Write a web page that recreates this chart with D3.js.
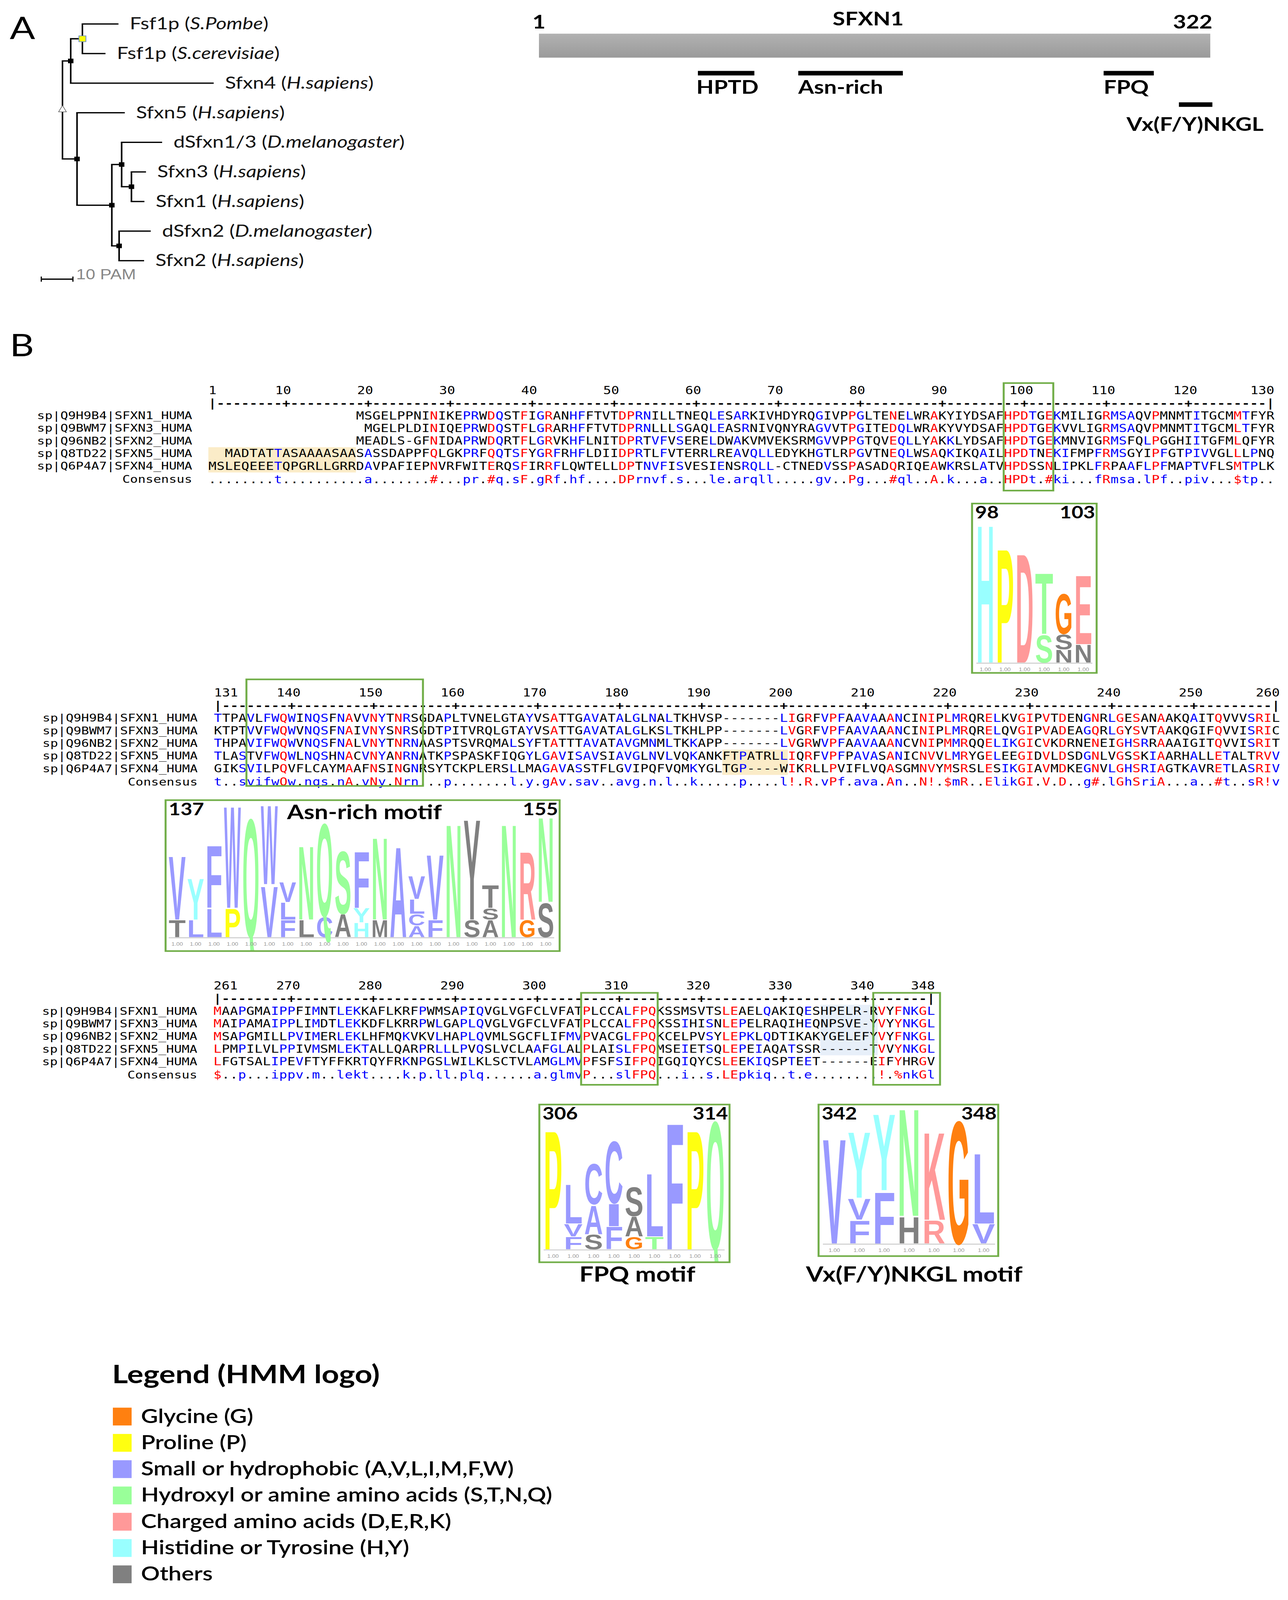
<!DOCTYPE html>
<html><head><meta charset="utf-8">
<script src="https://cdn.jsdelivr.net/npm/d3@7"></script>
<style>html,body{margin:0;padding:0;background:#fff;overflow:hidden}svg{display:block;width:100vw;height:100vh}</style></head>
<body><svg id="c" viewBox="0 0 3298 4941" preserveAspectRatio="none"></svg>
<script>
// ---------- DATA ----------
const treeNodes = [
 {id:"root",parent:null,len:0},
 {id:"n2",parent:"root",len:2.6},
 {id:"n1",parent:"n2",len:3.7},
 {id:"pombe",parent:"n1",len:11.4},
 {id:"cerev",parent:"n1",len:7.3},
 {id:"sfxn4",parent:"n2",len:45.2},
 {id:"n3",parent:"root",len:4.6},
 {id:"sfxn5",parent:"n3",len:15.1},
 {id:"n4",parent:"n3",len:11},
 {id:"n5",parent:"n4",len:3.1},
 {id:"dsfxn13",parent:"n5",len:12.8},
 {id:"n6",parent:"n5",len:3.1},
 {id:"sfxn3",parent:"n6",len:4.6},
 {id:"sfxn1",parent:"n6",len:4.1},
 {id:"n7",parent:"n4",len:2.3},
 {id:"dsfxn2",parent:"n7",len:10},
 {id:"sfxn2",parent:"n7",len:7.9}];
const leafNames = {pombe:["Fsf1p","S.Pombe"],cerev:["Fsf1p","S.cerevisiae"],sfxn4:["Sfxn4","H.sapiens"],sfxn5:["Sfxn5","H.sapiens"],dsfxn13:["dSfxn1/3","D.melanogaster"],sfxn3:["Sfxn3","H.sapiens"],sfxn1:["Sfxn1","H.sapiens"],dsfxn2:["dSfxn2","D.melanogaster"],sfxn2:["Sfxn2","H.sapiens"]};

const motifNames = ["HPTD","Asn-rich","FPQ","Vx(F/Y)NKGL"];
const motifStart = [77,125,271,307];
const motifEnd = [104,175,295,323];

const seqNames = ["sp|Q9H9B4|SFXN1_HUMA","sp|Q9BWM7|SFXN3_HUMA","sp|Q96NB2|SFXN2_HUMA","sp|Q8TD22|SFXN5_HUMA","sp|Q6P4A7|SFXN4_HUMA"];
const block1 = [
"                  MSGELPPNINIKEPRWDQSTFIGRANHFFTVTDPRNILLTNEQLESARKIVHDYRQGIVPPGLTENELWRAKYIYDSAFHPDTGEKMILIGRMSAQVPMNMTITGCMMTFYR",
"                   MGELPLDINIQEPRWDQSTFLGRARHFFTVTDPRNLLLSGAQLEASRNIVQNYRAGVVTPGITEDQLWRAKYVYDSAFHPDTGEKVVLIGRMSAQVPMNMTITGCMLTFYR",
"                  MEADLS-GFNIDAPRWDQRTFLGRVKHFLNITDPRTVFVSERELDWAKVMVEKSRMGVVPPGTQVEQLLYAKKLYDSAFHPDTGEKMNVIGRMSFQLPGGHIITGFMLQFYR",
"  MADTATTASAAAASAASASSDAPPFQLGKPRFQQTSFYGRFRHFLDIIDPRTLFVTERRLREAVQLLEDYKHGTLRPGVTNEQLWSAQKIKQAILHPDTNEKIFMPFRMSGYIPFGTPIVVGLLLPNQ",
"MSLEQEEETQPGRLLGRRDAVPAFIEPNVRFWITERQSFIRRFLQWTELLDPTNVFISVESIENSRQLL-CTNEDVSSPASADQRIQEAWKRSLATVHPDSSNLIPKLFRPAAFLPFMAPTVFLSMTPLK"];
const cons1 = "........t..........a.......#...pr.#q.sF.gRf.hf....DPr"+"nvf.s...le.arqll.....gv..Pg...#ql..A.k...a..HPDt.#ki...fRmsa.lPf..piv...$tp..";
const block2 = [
"TTPAVLFWQWINQSFNAVVNYTNRSGDAPLTVNELGTAYVSATTGAVATALGLNALTKHVSP-------LIGRFVPFAAVAAANCINIPLMRQRELKVGIPVTDENGNRLGESANAAKQAITQVVVSRIL",
"KTPTVVFWQWVNQSFNAIVNYSNRSGDTPITVRQLGTAYVSATTGAVATALGLKSLTKHLPP-------LVGRFVPFAAVAAANCINIPLMRQRELQVGIPVADEAGQRLGYSVTAAKQGIFQVVISRIC",
"THPAVIFWQWVNQSFNALVNYTNRNAASPTSVRQMALSYFTATTTAVATAVGMNMLTKKAPP-------LVGRWVPFAAVAAANCVNIPMMRQQELIKGICVKDRNENEIGHSRRAAAIGITQVVISRIT",
"TLASTVFWQWLNQSHNACVNYANRNATKPSPASKFIQGYLGAVISAVSIAVGLNVLVQKANKFTPATRLLIQRFVPFPAVASANICNVVLMRYGELEEGIDVLDSDGNLVGSSKIAARHALLETALTRVV",
"GIKSVILPQVFLCAYMAAFNSINGNRSYTCKPLERSLLMAGAVASSTFLGVIPQFVQMKYGLTGP----WIKRLLPVIFLVQASGMNVYMSRSLESIKGIAVMDKEGNVLGHSRIAGTKAVRETLASRIV"];
const cons2 = "t..svifwQw.nqs.nA.vNy.Nrn...p.......l.y.gAv.sav..avg.n.l..k.....p....l!.R.vPf.ava.An..N!.$mR..ElikGI.V.D..g#.lGhSriA...a..#t..sR!v";
const block3 = [
"MAAPGMAIPPFIMNTLEKKAFLKRFPWMSAPIQVGLVGFCLVFATPLCCALFPQKSSMSVTSLEAELQAKIQESHPELR-RVYFNKGL",
"MAIPAMAIPPLIMDTLEKKDFLKRRPWLGAPLQVGLVGFCLVFATPLCCALFPQKSSIHISNLEPELRAQIHEQNPSVE-YVYYNKGL",
"MSAPGMILLPVIMERLEKLHFMQKVKVLHAPLQVMLSGCFLIFMVPVACGLFPQKCELPVSYLEPKLQDTIKAKYGELEFYVYFNKGL",
"LPMPILVLPPIVMSMLEKTALLQARPRLLLPVQSLVCLAAFGLALPLAISLFPQMSEIETSQLEPEIAQATSSR------TVVYNKGL",
"LFGTSALIPEVFTYFFKRTQYFRKNPGSLWILKLSCTVLAMGLMVPFSFSIFPQIGQIQYCSLEEKIQSPTEET------EIFYHRGV"];
const cons3 = "$..p...ippv.m..lekt....k.p.ll.plq......a.glmvP...slFPQ...i..s.LEpkiq..t.e........!.%nkGl";

// HMM logos: stacks listed top -> bottom, [residue, height]; lowercase = drawn grey
const logoHPD = [[["H",4.3]],[["P",3.55]],[["D",3.4]],[["T",1.9],["S",0.85]],[["G",1.25],["s",0.45],["n",0.4]],[["E",2.15],["n",0.55]]];
const logoAsn = [[["V",2.25],["t",0.6]],[["Y",1.45],["L",0.6]],[["F",2.2],["L",1.0]],[["W",3.6],["P",1.0]],[["Q",4.2]],[["W",2.8],["V",1.8]],[["V",0.7],["L",0.6],["F",0.6]],[["N",2.6],["l",0.6]],[["Q",3.3],["C",0.7]],[["S",2.2],["a",0.8]],[["F",2.0],["Y",0.5],["H",0.5]],[["N",2.9],["m",0.6]],[["A",3.2]],[["V",0.8],["L",0.5],["C",0.4],["A",0.4]],[["V",2.3],["F",0.6]],[["N",4.0]],[["y",3.55],["s",0.6]],[["t",0.8],["s",0.4],["a",0.6]],[["N",4.0]],[["R",2.4],["G",0.6]],[["N",3.0],["s",1.2]]];
const logoFPQ = [[["P",9.65]],[["L",3.15],["V",1.0],["F",1.0]],[["C",3.3],["A",2.3],["s",1.2]],[["C",5.0],["I",1.8],["F",1.8]],[["s",2.35],["a",1.6],["G",1.0]],[["L",5.1],["T",1.0]],[["F",10.25]],[["P",9.65]],[["Q",10.4]]];
const logoNKGL = [[["V",8.5]],[["Y",5.35],["V",1.7],["F",1.85]],[["Y",6.2],["F",4.15]],[["N",8.7],["h",2.15]],[["K",7.1],["R",1.85]],[["G",9.95]],[["L",5.7],["V",1.55]]];

const legendLabels = ["Glycine (G)","Proline (P)","Small or hydrophobic (A,V,L,I,M,F,W)","Hydroxyl or amine amino acids (S,T,N,Q)","Charged amino acids (D,E,R,K)","Histidine or Tyrosine (H,Y)","Others"];
const legendColors = ["#ff8010","#ffff10","#9999ff","#99ff99","#ff9999","#99ffff","#808080"];

// ---------- DRAW ----------
const svg = d3.select("#c");
svg.append("rect").attr("width",3298).attr("height",4941).attr("fill","#fff");
const F = "Lato, 'Open Sans', sans-serif";
const MONO = "'DejaVu Sans Mono', monospace";
const GREEN = "#70ad47";
const defs = svg.append("defs");
function T(x,y,s,anchor,opts){const t=svg.append("text").attr("x",x).attr("y",y).attr("text-anchor",anchor||"start").text(s);Object.entries(opts).forEach(([k,v])=>t.attr(k,v));return t;}

// ---- Legend ----
T(287,4272,"Legend (HMM logo)","start",{"font-family":F,"font-weight":"bold","font-size":78});
legendLabels.forEach((l,i)=>{
  const yy = 4374 + i*81.2;
  svg.append("rect").attr("x",289).attr("y",yy-27).attr("width",48).attr("height",55).attr("fill",legendColors[i]);
  T(361,yy+20,l,"start",{"font-family":F,"font-weight":"600","font-size":60});
});

// Panel labels
T(25,121,"A","start",{"font-family":F,"font-size":96});
T(25,1100,"B","start",{"font-family":F,"font-size":96});

// ---- Tree ----
const root = d3.stratify().id(d=>d.id).parentId(d=>d.parent)(treeNodes);
const xT = d3.scaleLinear().domain([0,10]).range([160,241]);
const leaves = root.leaves();
const yT = d3.scalePoint().domain(leaves.map(d=>d.id)).range([74,805]);
root.eachBefore(n=>{n.pam=(n.parent?n.parent.pam:0)+n.data.len; n.px=xT(n.pam);});
root.eachAfter(n=>{n.py = n.children? d3.mean(n.children,c=>c.py) : yT(n.id);});
const tg = svg.append("g").attr("stroke","#000").attr("stroke-width",4).attr("fill","none");
root.each(n=>{
  if(n.children){
    const ys=n.children.map(c=>c.py);
    tg.append("line").attr("x1",n.px).attr("x2",n.px).attr("y1",d3.min(ys)).attr("y2",d3.max(ys));
    n.children.forEach(c=>tg.append("line").attr("x1",n.px-2).attr("x2",c.px).attr("y1",c.py).attr("y2",c.py));
  }
});
root.each(n=>{
  if(!n.children) return;
  if(n.id==="root"){
    svg.append("path").attr("d",`M${n.px},${n.py-14}L${n.px-10},${n.py+6}L${n.px+10},${n.py+6}Z`).attr("fill","#fff").attr("stroke","#555").attr("stroke-width",1.5);
  } else if(n.id==="n1"){
    svg.append("rect").attr("x",n.px-9).attr("y",n.py-9).attr("width",18).attr("height",18).attr("fill","#ffff00").attr("stroke","#6b8ec8").attr("stroke-width",2);
  } else {
    svg.append("rect").attr("x",n.px-7).attr("y",n.py-7).attr("width",14).attr("height",14).attr("fill","#000");
  }
});
leaves.forEach(l=>{
  const [nm,sp]=leafNames[l.id];
  const t=svg.append("text").attr("x",l.px+29).attr("y",l.py+17).attr("font-family",F).attr("font-size",52).attr("fill","#111");
  t.append("tspan").text(nm+" (");
  t.append("tspan").attr("font-style","italic").text(sp);
  t.append("tspan").text(")");
});
svg.append("line").attr("x1",xT(-6.7)).attr("x2",xT(3.3)).attr("y1",862).attr("y2",862).attr("stroke","#000").attr("stroke-width",4);
svg.append("line").attr("x1",xT(-6.7)).attr("x2",xT(-6.7)).attr("y1",854).attr("y2",870).attr("stroke","#000").attr("stroke-width",3);
svg.append("line").attr("x1",xT(3.3)).attr("x2",xT(3.3)).attr("y1",854).attr("y2",870).attr("stroke","#000").attr("stroke-width",3);
T(195,862,"10 PAM","start",{"font-family":"'Liberation Sans',sans-serif","font-size":44,"fill":"#888"});

// ---- Protein schematic ----
const xP = d3.scaleLinear().domain([1,322]).range([1380,3099]);
const gr = defs.append("linearGradient").attr("id","barg").attr("x1",0).attr("x2",0).attr("y1",0).attr("y2",1);
gr.append("stop").attr("offset","0%").attr("stop-color","#b2b2b2");
gr.append("stop").attr("offset","100%").attr("stop-color","#9a9a9a");
svg.append("rect").attr("x",xP(1)).attr("y",104).attr("width",xP(322)-xP(1)).attr("height",74).attr("fill","url(#barg)");
const bf = {"font-family":F,"font-weight":"bold","font-size":58};
T(xP(1),88,"1","middle",bf);
T(xP(322)-45,88,"322","middle",bf);
T(2223,78,"SFXN1","middle",bf);
motifNames.forEach((m,i)=>{
  const ly = i===3?323:226;
  svg.append("rect").attr("x",xP(motifStart[i])).attr("y",ly-7).attr("width",xP(motifEnd[i])-xP(motifStart[i])).attr("height",14).attr("fill","#000");
  if(i===3) T(3060,404,m,"middle",bf); else T(i===0?xP(motifStart[i])-4:xP(motifStart[i]),290,m,"start",bf);
});

// ---- Alignment ----
const groups = {"!":"IV","$":"LM","%":"FY","#":"NDQEBZ"};
function resColor(r,c){
  if(c==="."||r==="-"||r===" ") return "#000";
  if(groups[c]) return groups[c].includes(r)?"#ff0000":"#000";
  if(r.toUpperCase()!==c.toUpperCase()) return "#000";
  return c===c.toUpperCase()?"#ff0000":"#0000ff";
}
function consColor(c){ if(c===".") return "#000"; if(groups[c]) return "#ff0000"; return c===c.toUpperCase()?"#ff0000":"#0000ff"; }

function drawBlock(rows, cons, first, x0, y0, hl){
  const n = cons.length;
  const x = d3.scaleLinear().domain([first, first+n-1]).range([x0, x0+(n-1)*21]);
  const rs = 39;
  (hl||[]).forEach(h=>{
    svg.append("rect").attr("x",x(h[0])-10.5).attr("width",x(h[1])-x(h[0])+21).attr("y",y0+h[2]*rs-19).attr("height",(h[3]-h[2]+1)*rs).attr("fill",h[4]);
  });
  const g = svg.append("g").attr("font-family",MONO).attr("font-size",34).attr("dominant-baseline","central");
  const ticks = [first].concat(d3.range(Math.ceil((first+1)/10)*10, first+n-1, 10)).concat([first+n-1]);
  ticks.forEach((t,i)=>{
    const a = i===0?"start":(i===ticks.length-1?"end":"middle");
    const xx = i===0?x(t)-10:(i===ticks.length-1?x(t)+10:x(t)-8);
    g.append("text").attr("x",xx).attr("y",y0-78).attr("text-anchor",a).text(t);
  });
  for(let k=0;k<n;k++){
    const p=first+k; const ch = k===0||k===n-1?"|":(p%10===0?"+":"-");
    g.append("text").attr("x",x(p)).attr("y",y0-38).attr("text-anchor","middle").attr("font-weight","bold").text(ch);
  }
  rows.forEach((s,ri)=>{
    g.append("text").attr("x",x0-52).attr("y",y0+ri*rs).attr("text-anchor","end").attr("font-size",33).text(seqNames[ri]);
    for(let k=0;k<s.length;k++){
      if(s[k]===" ") continue;
      g.append("text").attr("x",x(first+k)).attr("y",y0+ri*rs).attr("text-anchor","middle").attr("fill",resColor(s[k],cons[k])).text(s[k]);
    }
  });
  const yc = y0+4*rs+41;
  g.append("text").attr("x",x0-52).attr("y",yc).attr("text-anchor","end").attr("font-size",33).text("Consensus");
  for(let k=0;k<n;k++) g.append("text").attr("x",x(first+k)).attr("y",yc).attr("text-anchor","middle").attr("fill",consColor(cons[k])).text(cons[k]);
  return x;
}
const x1 = drawBlock(block1, cons1, 1, 544, 1283, [[1,18,3,4,"#fbecc8"]]);
const x2 = drawBlock(block2, cons2, 131, 558, 2217, [[193,200,3,4,"#fbecc8"]]);
const x3 = drawBlock(block3, cons3, 261, 557, 3122, [[335,341,0,3,"#e7eff9"]]);
function gbox(x,y,w,h){svg.append("rect").attr("x",x).attr("y",y).attr("width",w).attr("height",h).attr("fill","none").attr("stroke",GREEN).attr("stroke-width",5);}
gbox(x1(98)-11,1183,x1(103)-x1(98)+22,332);
gbox(x2(135)-11,2098,x2(155)-x2(135)+32,329);
gbox(x3(306)-14,3066,x3(314)-x3(306)+28,284);
gbox(x3(342)-22,3066,x3(348)-x3(342)+45,284);

// ---- HMM logos ----
const clsColor = r=>{
  if(r!==r.toUpperCase()) return "#808080";
  if(r==="G") return "#ff8010"; if(r==="P") return "#ffff10";
  if("AVLIMFWC".includes(r)) return "#9999ff"; if("STNQ".includes(r)) return "#99ff99";
  if("DERK".includes(r)) return "#ff9999"; if("HY".includes(r)) return "#99ffff"; return "#808080";
};
let logoId=0;
function drawLogo(cols, bx, by, bw, bh, x0, colW, base, maxV, maxPx, lbl){
  const cid = "clip"+(logoId++);
  defs.append("clipPath").attr("id",cid).append("rect").attr("x",bx).attr("y",by).attr("width",bw).attr("height",bh);
  const y = d3.scaleLinear().domain([0,maxV]).range([base, base-maxPx]);
  const xs = d3.scaleBand().domain(d3.range(cols.length)).range([x0, x0+colW*cols.length]).paddingInner(0.08);
  const g = svg.append("g").attr("clip-path",`url(#${cid})`);
  g.append("line").attr("x1",x0).attr("x2",x0+colW*cols.length).attr("y1",base+2).attr("y2",base+2).attr("stroke","#ccc").attr("stroke-width",3);
  cols.forEach((stack,i)=>{
    let yy = base;
    stack.slice().reverse().forEach(([r,v])=>{
      const h = base - y(v);
      const t = g.append("text").attr("font-family","'Liberation Sans',Arial,sans-serif").attr("font-weight","bold").attr("font-size",100).attr("fill",clsColor(r)).text(r.toUpperCase());
      const bb = t.node().getBBox();
      t.attr("transform",`translate(${xs(i)},${yy}) scale(${xs.bandwidth()/bb.width},${h/72.9}) translate(${-bb.x},0)`);
      yy -= h;
    });
    g.append("text").attr("x",xs(i)+xs.bandwidth()/2).attr("y",base+26).attr("text-anchor","middle").attr("font-family","'Liberation Sans',sans-serif").attr("font-size",15).attr("fill","#999").text("1.00");
  });
  gbox(bx,by,bw,bh);
  T(bx+8,by+46,lbl[0],"start",{"font-family":F,"font-weight":"bold","font-size":52});
  T(bx+bw-4,by+46,lbl[1],"end",{"font-family":F,"font-weight":"bold","font-size":52});
}
drawLogo(logoHPD, 2489,1555,319,523, 2500,49.5, 2046, 4.3, 444, ["98","103"]);
drawLogo(logoAsn, 424,2471,1009,466, 432,47, 2894, 4.2, 382, ["137","155"]);
T(735,2530,"Asn-rich motif","start",{"font-family":F,"font-weight":"bold","font-size":62});
drawLogo(logoFPQ, 1381,3411,487,487, 1392,51.5, 3858, 10.4, 413, ["306","314"]);
drawLogo(logoNKGL, 2096,3411,460,468, 2107,63, 3840, 10, 397, ["342","348"]);
T(1632,3958,"FPQ motif","middle",{"font-family":F,"font-weight":"bold","font-size":64});
T(2341,3958,"Vx(F/Y)NKGL motif","middle",{"font-family":F,"font-weight":"bold","font-size":64});
</script></body></html>
